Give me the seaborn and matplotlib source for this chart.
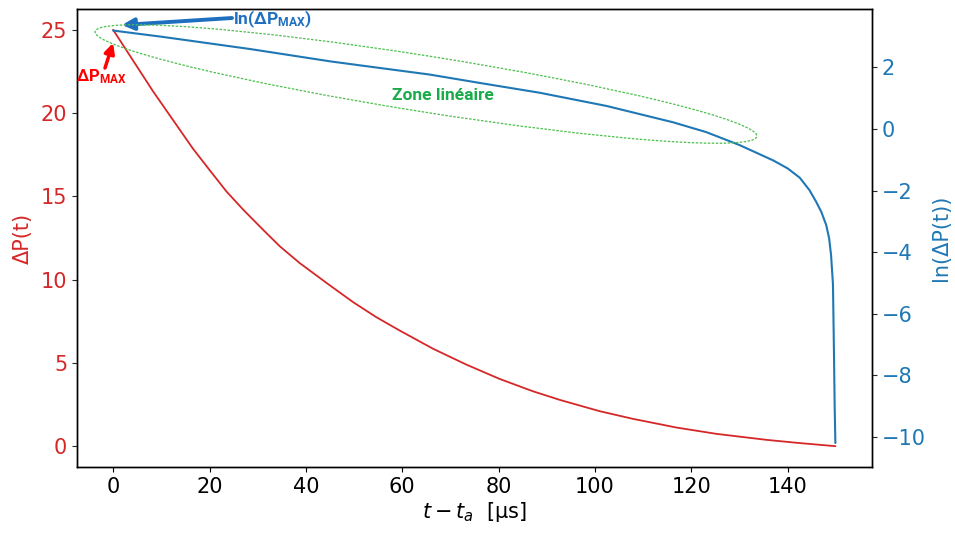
import numpy as np
import pandas as pd
import matplotlib
matplotlib.use("Agg")
import matplotlib.pyplot as plt
from matplotlib.patches import Ellipse
import seaborn as sns

# ---- data ----
t_red = [0, 8.3, 16.6, 20.1, 23.5, 27.0, 31.1, 34.6, 38.7, 44.3, 49.8, 54.6, 59.5,
         66.4, 73.3, 80.2, 87.1, 92.7, 101.0, 107.9, 116.9, 125.2, 135.6, 142.0, 149.9]
dp_red = [25.0, 21.3, 17.85, 16.55, 15.3, 14.2, 13.0, 12.0, 11.0, 9.8, 8.65, 7.75, 6.94,
          5.85, 4.9, 4.04, 3.3, 2.78, 2.1, 1.64, 1.12, 0.74, 0.38, 0.2, 0.0]

t_blue = [0, 10, 28.4, 45, 51.2, 65.7, 76.0, 88.5, 102.4, 116.2, 123.1, 130.0, 137.0,
          140.0, 142.5, 144.5, 145.9, 147.0, 148.0, 148.6, 149.0, 149.4, 149.6, 149.75, 149.9]
ln_blue = [3.2, 3.0, 2.6, 2.2, 2.07, 1.77, 1.5, 1.18, 0.75, 0.22, -0.1, -0.52, -1.02,
           -1.28, -1.58, -1.98, -2.36, -2.7, -3.12, -3.55, -4.09, -5.05, -7.2, -9.0, -10.2]

xticks = [0, 20, 40, 60, 80, 100, 120, 140]
left_ticks = [0, 5, 10, 15, 20, 25]
right_ticks = [-10, -8, -6, -4, -2, 0, 2]

RED = "#d62728"
BLUE = "#1f77b4"

sns.set_style("ticks")
plt.rcParams["font.family"] = ["DejaVu Sans"]
plt.rcParams["mathtext.fontset"] = "dejavusans"
plt.rcParams["mathtext.rm"] = "Roboto:bold"
plt.rcParams["mathtext.it"] = "Roboto:bold"
plt.rcParams["mathtext.bf"] = "Roboto:bold"

fig = plt.figure(figsize=(9.55, 5.34), dpi=100)
ax = fig.add_axes([77 / 955, 67 / 534, (872 - 77) / 955, (467 - 9) / 534])
ax2 = ax.twinx()

df_red = pd.DataFrame({"t": t_red, "dp": dp_red})
df_blue = pd.DataFrame({"t": t_blue, "ln": ln_blue})
sns.lineplot(data=df_red, x="t", y="dp", ax=ax, color=RED, lw=1.3, sort=False)
sns.lineplot(data=df_blue, x="t", y="ln", ax=ax2, color=BLUE, lw=1.5, sort=False)

ax.set_xlim(-7.5, 157.5)
ax.set_ylim(-1.25, 26.25)
ax2.set_ylim(-10.98, 3.9)
ax.set_xticks(xticks)
ax.set_yticks(left_ticks)
ax2.set_yticks(right_ticks)

fs = 15
ax.tick_params(axis="x", labelsize=fs, colors="black", direction="out")
ax.tick_params(axis="y", labelsize=fs, labelcolor=RED, direction="out")
ax2.tick_params(axis="y", labelsize=fs, labelcolor=BLUE, direction="out")
ax.set_xlabel(r"$t-t_a$  [µs]", fontsize=fs, color="black", labelpad=2)
ax.set_ylabel("ΔP(t)", fontsize=fs, color=RED, labelpad=6)
ax2.set_ylabel("ln(ΔP(t))", fontsize=fs, color=BLUE, labelpad=4)
for a in (ax, ax2):
    for s in a.spines.values():
        s.set_visible(True)
        s.set_color("black")
        s.set_linewidth(1.0)

# ---- annotations (figure-pixel positions) ----
H = 534
ell = Ellipse(xy=(4.26, (H - 84) / 100), width=6.70, height=0.56, angle=-9,
              transform=fig.dpi_scale_trans, fill=False, edgecolor="#4cbf4c",
              lw=0.9, linestyle=(0, (2.0, 1.2)))
fig.add_artist(ell)

fig.text(443 / 955, (H - 96) / H, "Zone linéaire", color="#1aab4a", fontsize=12.5,
         fontweight="bold", ha="center", va="center", family="Roboto")

fig.text(272 / 955, (H - 19) / H, r"$\mathrm{ln(\Delta P_{MAX})}$", color="#1e6fbf",
         fontsize=12.5, ha="center", va="center", math_fontfamily="custom")
ax.annotate("", xy=(122, H - 25), xycoords="figure pixels",
            xytext=(232, H - 18), textcoords="figure pixels",
            arrowprops=dict(arrowstyle="-|>,head_length=0.7,head_width=0.35",
                            color="#1e6fbf", lw=2.8, shrinkA=0, shrinkB=0),
            annotation_clip=False)

fig.text(101 / 955, (H - 77) / H, r"$\mathrm{\Delta P_{MAX}}$", color="#ff0000",
         fontsize=12, ha="center", va="center", math_fontfamily="custom")
ax.annotate("", xy=(113, H - 43), xycoords="figure pixels",
            xytext=(105, H - 68), textcoords="figure pixels",
            arrowprops=dict(arrowstyle="-|>,head_length=0.6,head_width=0.3",
                            color="#ff0000", lw=2.5, shrinkA=0, shrinkB=0),
            annotation_clip=False)

fig.savefig("out.png", dpi=100)
